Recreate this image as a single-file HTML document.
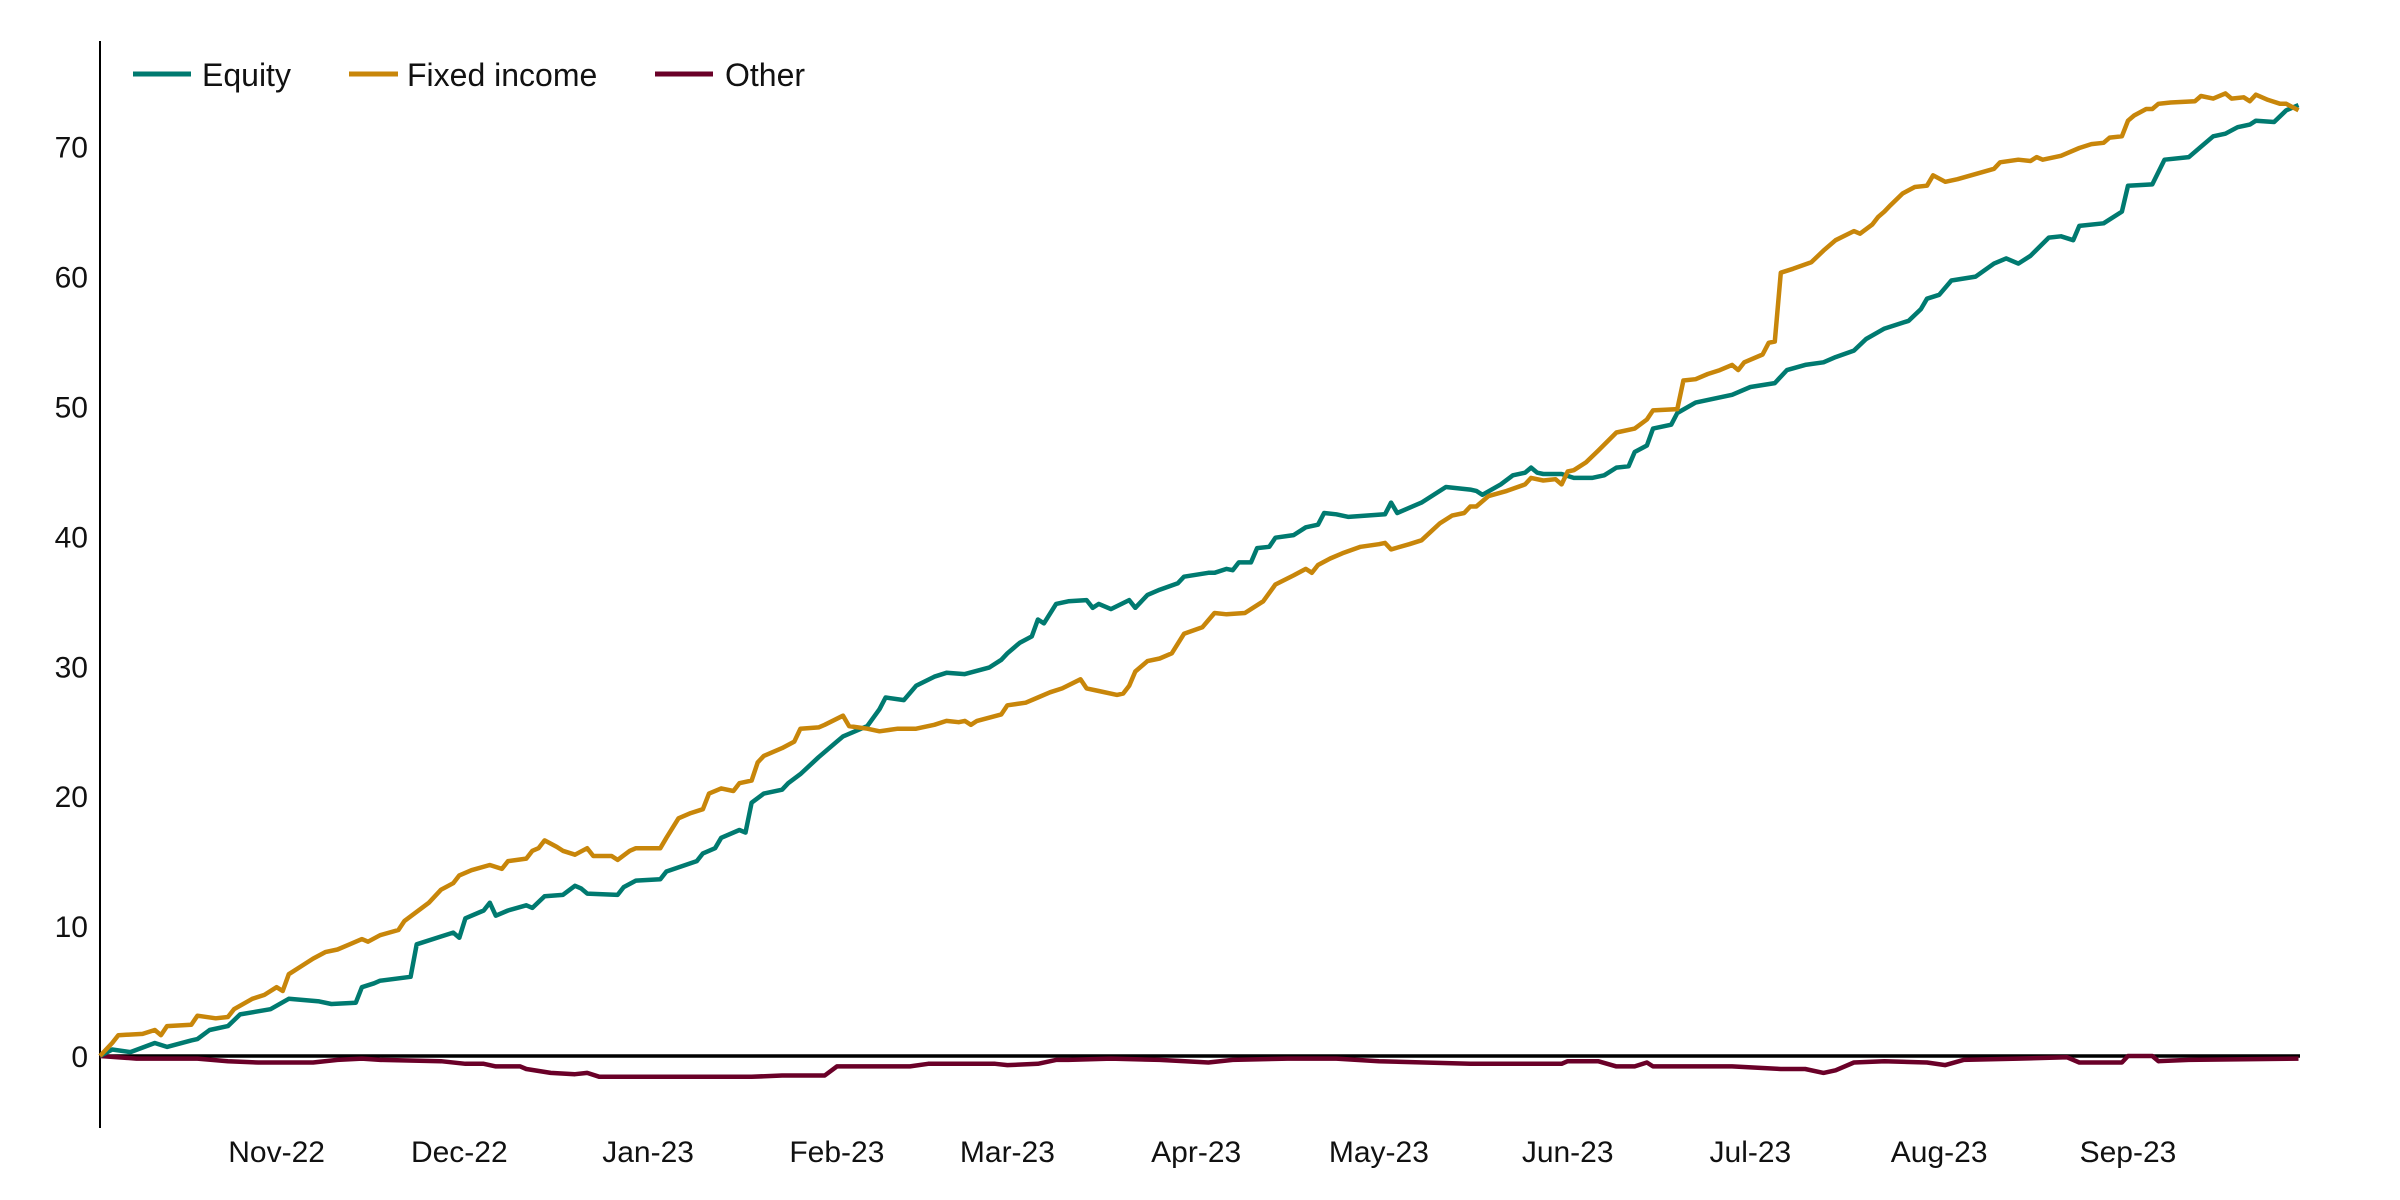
<!DOCTYPE html>
<html><head><meta charset="utf-8"><style>
html,body{margin:0;padding:0;background:#fff;}
svg{display:block;font-family:"Liberation Sans",sans-serif;}
</style></head><body>
<svg id="chart" width="2400" height="1200" viewBox="0 0 2400 1200" xmlns="http://www.w3.org/2000/svg">
<g id="legend">
<g><line x1="133" y1="74" x2="191" y2="74" stroke="#007a70" stroke-width="5"/><text x="202" y="86" font-size="32" fill="#111">Equity</text></g>
<g><line x1="349" y1="74" x2="398" y2="74" stroke="#c8860a" stroke-width="5"/><text x="407" y="86" font-size="32" fill="#111">Fixed income</text></g>
<g><line x1="655" y1="74" x2="713" y2="74" stroke="#6a0028" stroke-width="5"/><text x="725" y="86" font-size="32" fill="#111">Other</text></g>
</g>
<g id="yaxis"></g>
<g id="xaxis"></g>
<g id="series"></g>
</svg>
<script>
const yTicks=[0,10,20,30,40,50,60,70];
const monthLabels=["Nov-22","Dec-22","Jan-23","Feb-23","Mar-23","Apr-23","May-23","Jun-23","Jul-23","Aug-23","Sep-23"];
const monthDays=[29,59,90,121,149,180,210,241,271,302,333];
const eqDays=[0,2,5,9,11,15,16,18,21,23,28,31,36,38,42,43,45,46,51,52,56,58,59,60,63,64,65,67,70,71,73,76,78,79,80,85,86,88,92,93,98,99,101,102,105,106,107,109,112,113,115,118,121,122,126,128,129,132,134,137,139,142,146,148,149,151,153,154,155,157,159,162,163,164,166,169,170,172,174,177,178,182,183,185,186,187,189,190,192,193,196,198,200,201,203,205,211,212,213,215,217,221,225,226,227,230,232,234,235,236,237,240,242,245,247,249,251,252,254,255,258,259,262,265,268,271,275,277,280,283,285,288,290,293,297,299,300,302,304,308,311,313,315,317,320,322,324,325,329,332,333,337,339,343,345,347,349,351,353,354,357,359,361];
const eqVals=[0,0.5,0.3,1,0.7,1.2,1.3,2,2.3,3.2,3.6,4.4,4.2,4,4.1,5.3,5.6,5.8,6.1,8.6,9.2,9.5,9.1,10.6,11.2,11.8,10.8,11.2,11.6,11.4,12.3,12.4,13.1,12.9,12.5,12.4,13.0,13.5,13.6,14.2,15,15.6,16.0,16.8,17.4,17.2,19.5,20.2,20.5,21,21.7,23,24.2,24.6,25.4,26.7,27.6,27.4,28.5,29.2,29.5,29.4,29.9,30.5,31,31.8,32.3,33.6,33.3,34.8,35,35.1,34.5,34.8,34.4,35.1,34.5,35.5,35.9,36.4,36.9,37.2,37.2,37.5,37.4,38,38,39.1,39.2,39.9,40.1,40.7,40.9,41.8,41.7,41.5,41.7,42.6,41.8,42.2,42.6,43.8,43.6,43.5,43.2,44,44.7,44.9,45.3,44.9,44.8,44.8,44.5,44.5,44.7,45.3,45.4,46.5,47,48.3,48.6,49.5,50.3,50.6,50.9,51.5,51.8,52.8,53.2,53.4,53.8,54.3,55.2,56,56.6,57.5,58.3,58.6,59.7,60,61,61.4,61,61.6,63,63.1,62.8,63.9,64.1,65,67,67.1,69,69.2,70,70.8,71,71.5,71.7,72,71.9,72.8,73.2];
const fiDays=[0,2,3,7,9,10,11,15,16,19,21,22,25,27,29,30,31,33,35,37,39,41,43,44,46,49,50,54,56,58,59,61,64,66,67,70,71,72,73,75,76,78,80,81,84,85,87,88,92,93,95,97,99,100,102,104,105,107,108,109,112,114,115,118,119,122,123,126,128,131,134,137,139,141,142,143,144,148,149,152,154,156,158,161,162,164,167,168,169,170,172,174,176,178,181,183,185,188,191,193,196,198,199,200,202,204,207,210,211,212,215,217,220,222,224,225,226,228,231,234,235,237,239,240,241,242,244,246,249,252,254,255,259,260,262,264,266,268,269,270,273,274,275,276,278,281,283,285,288,289,291,292,293,294,296,298,300,301,303,305,311,312,315,317,318,319,322,325,327,329,330,332,333,334,336,337,338,340,344,345,347,349,350,352,353,354,356,358,359,361];
const fiVals=[0,1,1.6,1.7,2,1.6,2.3,2.4,3.1,2.9,3,3.6,4.4,4.7,5.3,5,6.3,6.9,7.5,8.0,8.2,8.6,9,8.8,9.3,9.7,10.4,11.8,12.8,13.3,13.9,14.3,14.7,14.4,15,15.2,15.8,16.0,16.6,16.1,15.8,15.5,16,15.4,15.4,15.1,15.8,16,16,16.8,18.3,18.7,19,20.2,20.6,20.4,21.0,21.2,22.6,23.1,23.7,24.2,25.2,25.3,25.5,26.2,25.4,25.2,25,25.2,25.2,25.5,25.8,25.7,25.8,25.5,25.8,26.3,27,27.2,27.6,28,28.3,29,28.3,28.1,27.8,27.9,28.5,29.6,30.4,30.6,31,32.5,33,34.1,34,34.1,35,36.3,37,37.5,37.2,37.8,38.3,38.7,39.2,39.4,39.5,39,39.4,39.7,41,41.6,41.8,42.3,42.3,43.1,43.5,44,44.5,44.3,44.4,44,45,45.1,45.7,46.6,48,48.3,49,49.7,49.8,52,52.1,52.5,52.8,53.2,52.8,53.4,54,54.9,55,60.3,60.6,61.1,62,62.8,63.5,63.3,64,64.6,65,65.5,66.4,66.9,67,67.8,67.3,67.5,68.3,68.8,69,68.9,69.2,69,69.3,69.9,70.2,70.3,70.7,70.8,72,72.4,72.9,72.9,73.3,73.4,73.5,73.9,73.7,74.1,73.7,73.8,73.5,74,73.6,73.3,73.3,72.8];
const otDays=[0,6,16,21,26,35,39,43,46,56,60,63,65,69,70,74,78,80,82,89,107,112,119,121,127,133,136,147,149,154,157,159,166,174,182,186,195,203,210,225,240,241,246,249,252,254,255,268,276,280,283,285,288,293,300,303,306,315,323,325,332,333,337,338,343,361];
const otVals=[0,-0.2,-0.2,-0.4,-0.5,-0.5,-0.3,-0.2,-0.3,-0.4,-0.6,-0.6,-0.8,-0.8,-1.0,-1.3,-1.4,-1.3,-1.6,-1.6,-1.6,-1.5,-1.5,-0.8,-0.8,-0.8,-0.6,-0.6,-0.7,-0.6,-0.3,-0.3,-0.2,-0.3,-0.5,-0.3,-0.2,-0.2,-0.4,-0.6,-0.6,-0.4,-0.4,-0.8,-0.8,-0.5,-0.8,-0.8,-1.0,-1.0,-1.3,-1.1,-0.5,-0.4,-0.5,-0.7,-0.3,-0.2,-0.1,-0.5,-0.5,0,0,-0.4,-0.3,-0.2];

const X0=100, DAYPX=6.09, Y0=1056, UNITPX=12.99;
const xs=d=>X0+d*DAYPX;
const ys=v=>Y0-v*UNITPX;
const NS="http://www.w3.org/2000/svg";
const mk=(t,parent)=>{const e=document.createElementNS(NS,t);parent.appendChild(e);return e;};

const yaxis=document.getElementById('yaxis');
const axisLine=mk('line',yaxis);


axisLine.setAttribute('x1',X0);axisLine.setAttribute('x2',X0);
axisLine.setAttribute('y1',41);axisLine.setAttribute('y2',1128);
axisLine.setAttribute('stroke','#000');axisLine.setAttribute('stroke-width','2');
yTicks.forEach(v=>{
  const t=mk('text',yaxis);
  
  
  t.setAttribute('x',88);t.setAttribute('y',ys(v)+11);
  t.setAttribute('text-anchor','end');t.setAttribute('font-size','30');t.setAttribute('fill','#111');
  t.textContent=v;
});

const xaxis=document.getElementById('xaxis');
monthLabels.forEach((m,i)=>{
  const t=mk('text',xaxis);
  
  
  t.setAttribute('x',xs(monthDays[i]));t.setAttribute('y',1162);
  t.setAttribute('text-anchor','middle');t.setAttribute('font-size','30');t.setAttribute('fill','#111');
  t.textContent=m;
});

const series=document.getElementById('series');
function drawLine(days,vals,color,name){
  const p=mk('polyline',series);
  
  
  p.setAttribute('points',days.map((d,i)=>xs(d).toFixed(1)+','+ys(vals[i]).toFixed(1)).join(' '));
  p.setAttribute('fill','none');p.setAttribute('stroke',color);
  p.setAttribute('stroke-width','4.5');p.setAttribute('stroke-linejoin','round');
}
const zero=mk('line',series);


zero.setAttribute('x1',X0);zero.setAttribute('x2',2300);
zero.setAttribute('y1',Y0);zero.setAttribute('y2',Y0);
zero.setAttribute('stroke','#000');zero.setAttribute('stroke-width','3.5');
drawLine(otDays,otVals,'#6a0028','other-line');
drawLine(eqDays,eqVals,'#007a70','equity-line');
drawLine(fiDays,fiVals,'#c8860a','fixed-income-line');
</script>
</body></html>
